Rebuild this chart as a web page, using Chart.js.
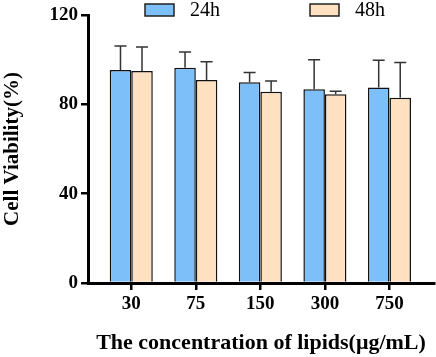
<!DOCTYPE html>
<html>
<head>
<meta charset="utf-8">
<script src="https://cdn.jsdelivr.net/npm/chart.js@4"></script>
<style>
  html, body { margin: 0; padding: 0; background: #fff; }
  #wrap { width: 436px; height: 357px; }
</style>
</head>
<body>
<div id="wrap"><canvas id="chart"></canvas></div>
<script>
const concentrations = ['30', '75', '150', '300', '750'];
const seriesNames = ['24h', '48h'];
const viability24 = [95.4, 96.4, 89.9, 86.8, 87.5];
const viability48 = [94.9, 90.9, 85.6, 84.5, 82.9];
const sd24 = [10.7, 7.0, 4.3, 13.2, 12.2];
const sd48 = [10.8, 8.2, 4.9, 1.4, 15.8];
const yTicks = [0, 40, 80, 120];

const serif = '"Liberation Serif", "Times New Roman", serif';

const toPoints = vals => vals.map((v, i) => ({ x: i, y: v }));

// upward-only error bars with caps
const errorBars = {
    id: 'errorBars',
    afterDatasetsDraw(chart) {
        const ctx = chart.ctx;
        const y = chart.scales.y;
        ctx.save();
        ctx.strokeStyle = '#333';
        ctx.lineWidth = 1.5;
        chart.data.datasets.forEach((ds, di) => {
            const meta = chart.getDatasetMeta(di);
            meta.data.forEach((bar, i) => {
                const top = y.getPixelForValue(ds.data[i].y + ds.sd[i]);
                ctx.beginPath();
                ctx.moveTo(bar.x, bar.y);
                ctx.lineTo(bar.x, top);
                ctx.moveTo(bar.x - 6, top);
                ctx.lineTo(bar.x + 6, top);
                ctx.stroke();
            });
        });
        ctx.restore();
    }
};

// legend drawn above the plot
const topLegend = {
    id: 'topLegend',
    afterDraw(chart) {
        const ctx = chart.ctx;
        const boxX = [145, 310];
        ctx.save();
        ctx.font = '20px ' + serif;
        ctx.textBaseline = 'middle';
        chart.data.datasets.forEach((ds, i) => {
            ctx.fillStyle = ds.backgroundColor;
            ctx.fillRect(boxX[i], 4, 29, 12);
            ctx.strokeStyle = '#222';
            ctx.lineWidth = 1.5;
            ctx.strokeRect(boxX[i], 4, 29, 12);
            ctx.fillStyle = '#000';
            ctx.fillText(ds.label, boxX[i] + 45, 11);
        });
        ctx.restore();
    }
};

new Chart(document.getElementById('chart'), {
    type: 'bar',
    data: {
        datasets: [
            {
                label: seriesNames[0],
                data: toPoints(viability24),
                sd: sd24,
                backgroundColor: '#7dbff8',
                borderColor: '#111',
                borderWidth: 1.5
            },
            {
                label: seriesNames[1],
                data: toPoints(viability48),
                sd: sd48,
                backgroundColor: '#ffe0c0',
                borderColor: '#111',
                borderWidth: 1.5
            }
        ]
    },
    options: {
        responsive: true,
        maintainAspectRatio: false,
        animation: false,
        layout: { padding: { top: 15, right: 2, left: 0, bottom: 0 } },
        categoryPercentage: 0.667,
        barPercentage: 1.0,
        plugins: {
            legend: { display: false },
            tooltip: { enabled: false }
        },
        scales: {
            x: {
                type: 'linear',
                offset: false,
                min: -0.67,
                max: 4.69,
                afterFit: s => { s.height = 74; },
                border: { color: '#000', width: 3 },
                grid: {
                    offset: false,
                    drawOnChartArea: false,
                    drawTicks: true,
                    tickLength: 7,
                    color: '#000',
                    lineWidth: 2.5
                },
                ticks: {
                    stepSize: 1,
                    includeBounds: false,
                    padding: 3,
                    color: '#000',
                    font: { family: serif, size: 19, weight: 'bold' },
                    callback: v => concentrations[v] ?? ''
                },
                title: {
                    display: true,
                    text: 'The concentration of lipids(μg/mL)',
                    color: '#000',
                    font: { family: serif, size: 22, weight: 'bold' },
                    padding: { top: 0, bottom: 0 }
                }
            },
            y: {
                min: yTicks[0],
                max: yTicks[yTicks.length - 1],
                afterFit: s => { s.width = 88; },
                afterBuildTicks: s => { s.ticks = yTicks.map(v => ({ value: v })); },
                border: { color: '#000', width: 3 },
                grid: {
                    drawOnChartArea: false,
                    drawTicks: true,
                    tickLength: 7,
                    color: '#000',
                    lineWidth: 2.5
                },
                ticks: {
                    padding: 3,
                    color: '#000',
                    font: { family: serif, size: 19, weight: 'bold' }
                },
                title: {
                    display: true,
                    text: 'Cell Viability(%)',
                    color: '#000',
                    font: { family: serif, size: 21, weight: 'bold' },
                    padding: { top: 0, bottom: 0 }
                }
            }
        }
    },
    plugins: [errorBars, topLegend]
});
</script>
</body>
</html>
